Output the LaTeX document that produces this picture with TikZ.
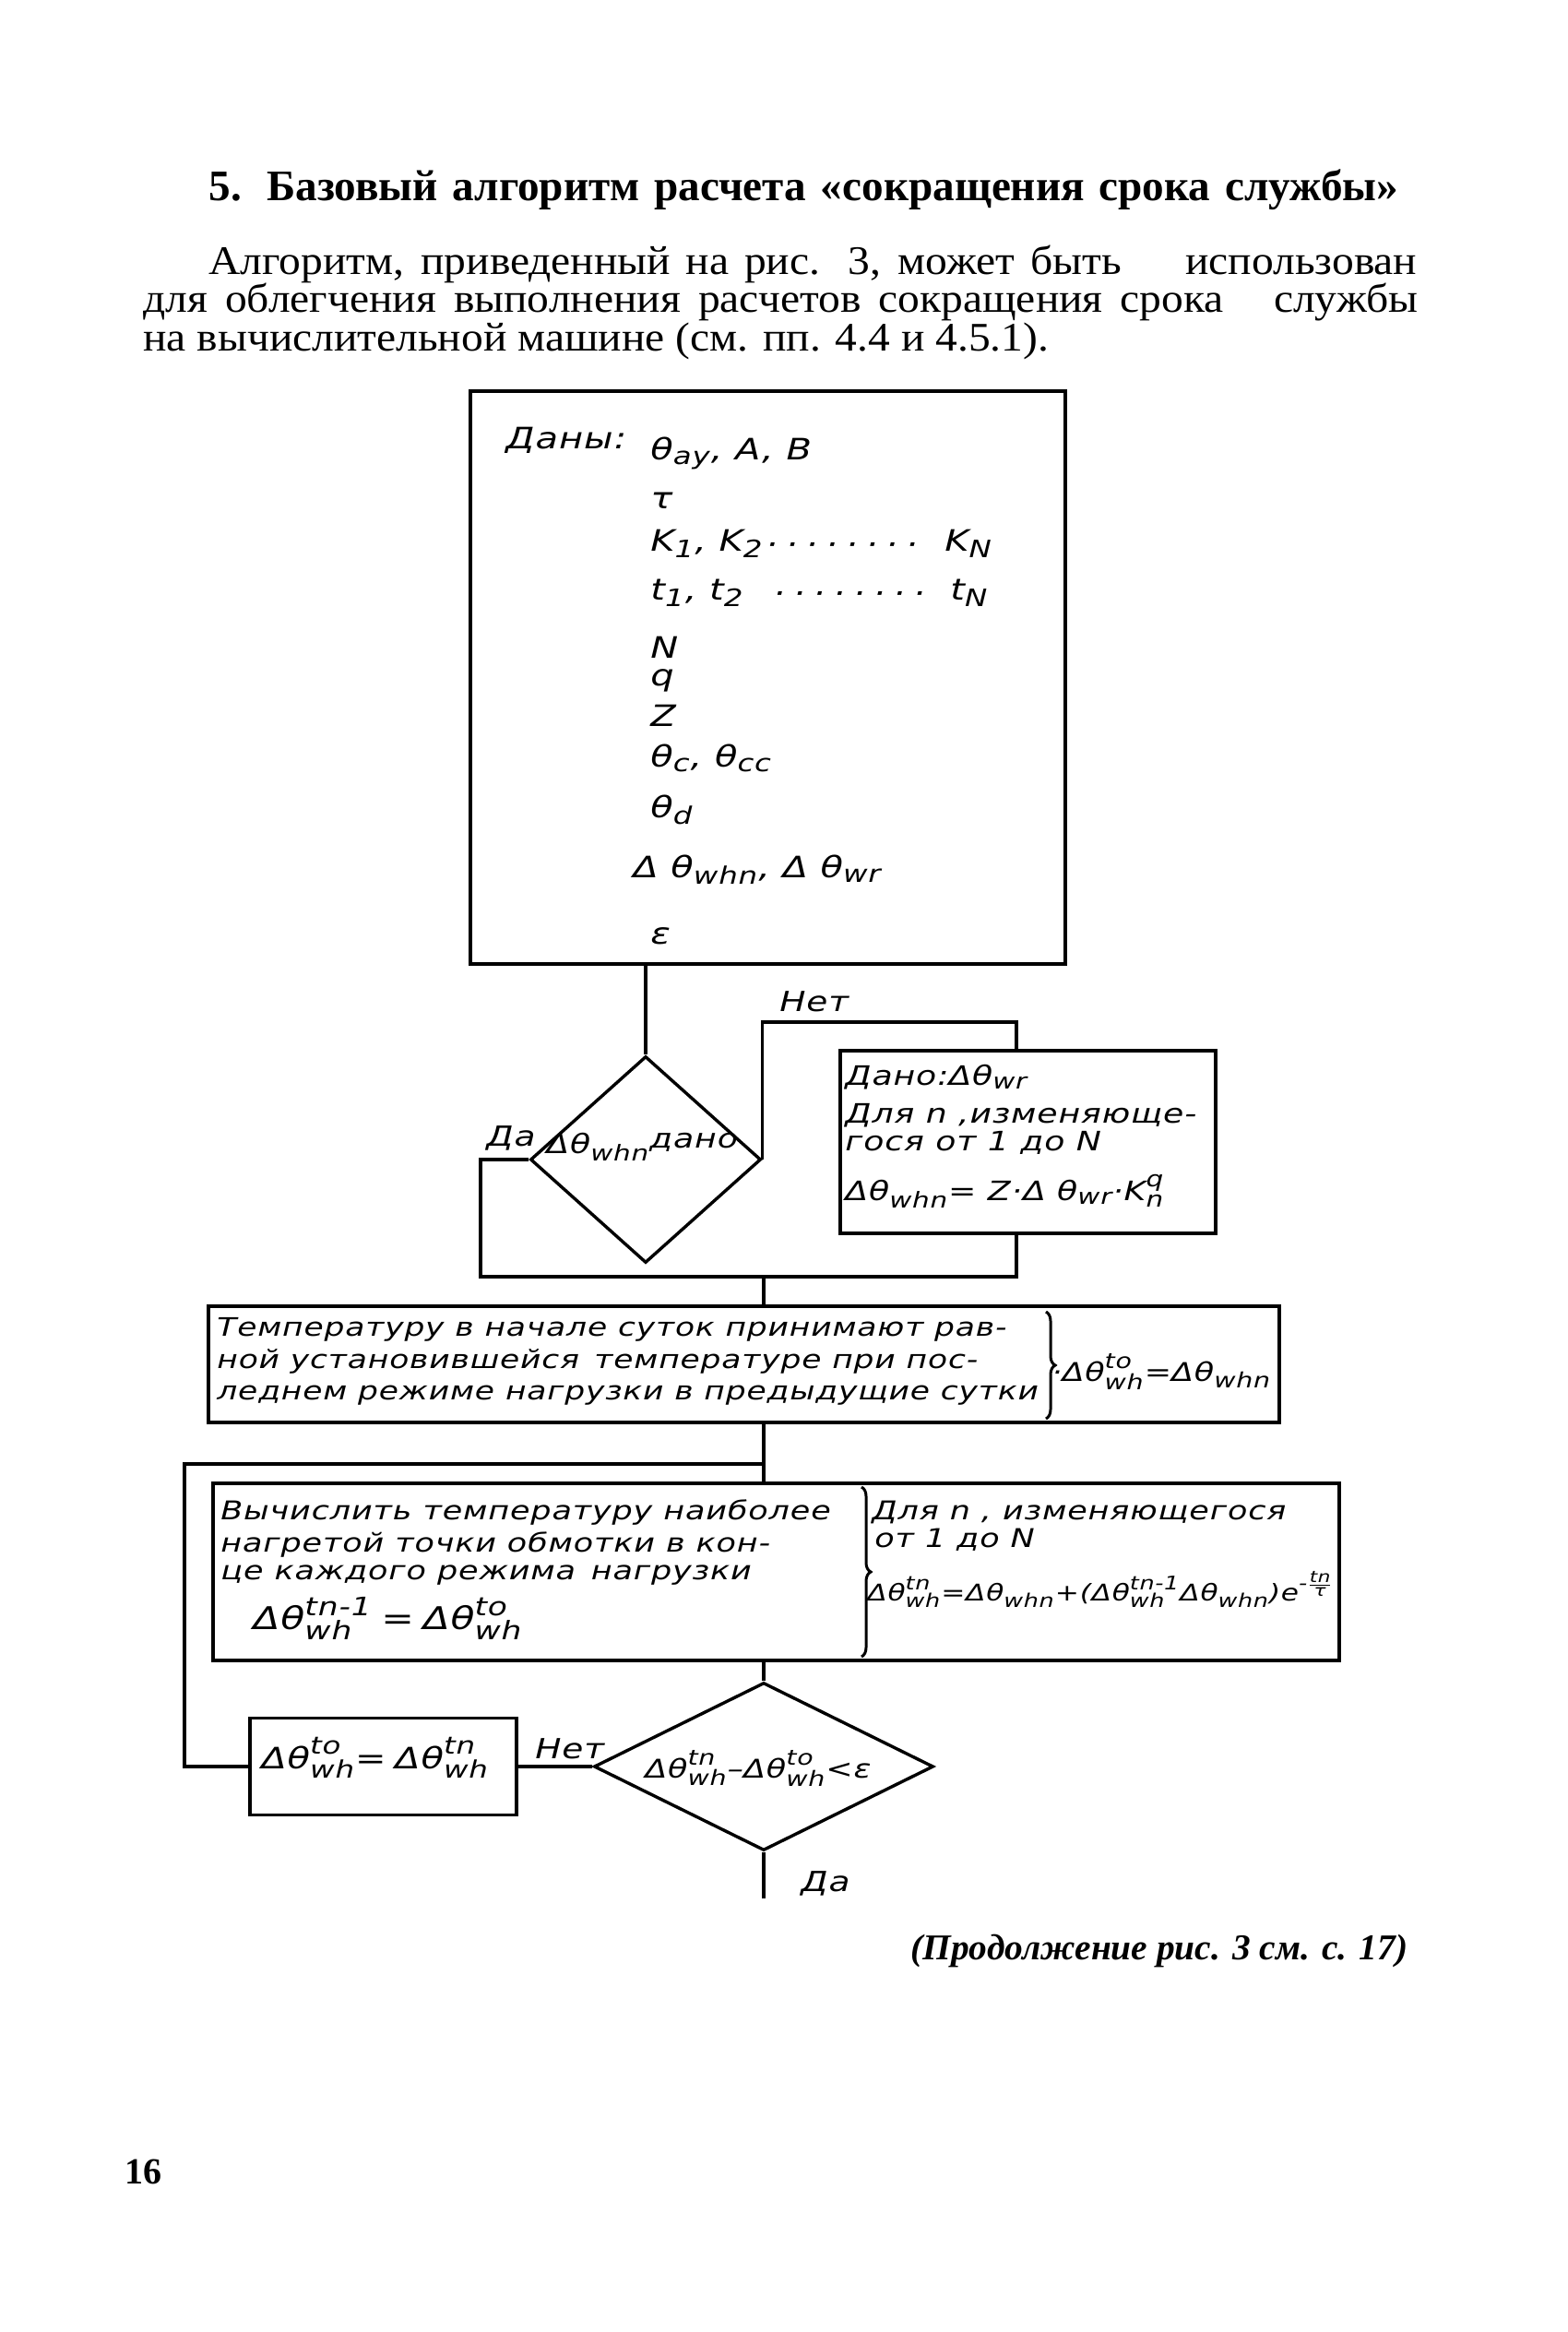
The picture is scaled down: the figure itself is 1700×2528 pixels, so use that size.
\documentclass[tikz,border=0pt]{standalone}
\usepackage{fontspec}
\usepackage{amsmath}
\setmainfont{Liberation Serif}
\newfontfamily\bodyf[FakeStretch=1.08]{Liberation Serif}
\newfontfamily\gost[FakeStretch=1.25,LetterSpace=3]{DejaVu Sans}
\DeclareMathSizes{17}{17}{13.8}{10.5}
\DeclareMathSizes{16}{16}{13}{10}
\DeclareMathSizes{15}{15}{12.2}{9.5}
\DeclareMathSizes{14.5}{14.5}{11.8}{9.2}
\DeclareMathSizes{14}{14}{11.4}{9}
\DeclareMathSizes{13.8}{13.8}{11.2}{9}
\DeclareMathSizes{12.5}{12.5}{10.2}{8.6}
\usetikzlibrary{shapes.geometric,decorations.pathreplacing}
\newcommand\T[1]{\text{#1}}
\newcommand\dotrow{·\hspace{0.28em}·\hspace{0.28em}·\hspace{0.28em}·\hspace{0.28em}·\hspace{0.28em}·\hspace{0.28em}·\hspace{0.28em}·}
\tikzset{
  ln/.style={line width=1.7pt},
  blk/.style={draw, line width=1.7pt, inner sep=0pt, rectangle},
  dia/.style={draw, diamond, line width=1.7pt, inner sep=0pt},
  gt/.style={anchor=base west, inner sep=0pt, font=\gost\itshape\fontsize{#1}{#1}\selectfont},
  bodytxt/.style={anchor=base west, inner sep=0pt, font=\bodyf\fontsize{22}{22}\selectfont},
  brc/.style={decorate, decoration={brace, amplitude=5pt}, line width=1.5pt},
}
\begin{document}
\begin{tikzpicture}[x=0.5pt,y=-0.5pt]
\fill[white] (0,0) rectangle (1700,2528);
\useasboundingbox (0,0) rectangle (1700,2528);

% ---- page text
\node[anchor=base west, inner sep=0pt, font=\bfseries\fontsize{23.6}{23.6}\selectfont] (title) at (226,217)
  {\makebox[645pt][s]{5. Базовый алгоритм расчета «сокращения срока службы»}};
\node[bodytxt] (p1) at (226,297) {\makebox[655pt][s]{Алгоритм, приведенный на рис. 3, может быть\hspace{1.2em} использован}};
\node[bodytxt] (p2) at (155,338) {\makebox[691pt][s]{для облегчения выполнения расчетов сокращения срока\hspace{0.8em} службы}};
\node[bodytxt] (p3) at (155,380) {на вычислительной машине (см. пп. 4.4 и 4.5.1).};

% ---- blocks
\node[blk, minimum width=322.5pt, minimum height=310.5pt] (b1) at (832.5,734.5) {};
\node[dia, minimum width=125pt, minimum height=112pt] (d1) at (700,1257) {};
\node[blk, minimum width=203.5pt, minimum height=99pt] (b2) at (1114.5,1238) {};
\node[blk, minimum width=580.5pt, minimum height=63pt] (b3) at (806.5,1479) {};
\node[blk, minimum width=610.5pt, minimum height=96pt] (b4) at (841.5,1704) {};
\node[dia, minimum width=184pt, minimum height=91pt] (d2) at (828,1915) {};
\node[blk, minimum width=144.5pt, minimum height=52.5pt] (b5) at (415.5,1915) {};

% ---- block 1 texts
\node[gt=16] (dany) at (548,486) {Даны:};
\node[gt=16] (v1) at (705,498) {$\T{θ}_{\T{ay}}$, A, B};
\node[gt=16] (v2) at (705,551) {τ};
\node[gt=16] (v3) at (705,597) {$\T{K}_{\T{1}}$, $\T{K}_{\T{2}}$};
\node[gt=16] (v3d) at (830,601) {\dotrow};
\node[gt=16] (v3n) at (1024,597) {$\T{K}_{\T{N}}$};
\node[gt=16] (v4) at (705,650) {$\T{t}_{\T{1}}$, $\T{t}_{\T{2}}$};
\node[gt=16] (v4d) at (838,654) {\dotrow};
\node[gt=16] (v4n) at (1030,650) {$\T{t}_{\T{N}}$};
\node[gt=16] (v5) at (705,713) {N};
\node[gt=16] (v6) at (705,743) {q};
\node[gt=16] (v7) at (705,787) {Z};
\node[gt=16] (v8) at (705,831) {$\T{θ}_{\T{c}}$, $\T{θ}_{\T{cc}}$};
\node[gt=16] (v9) at (705,886) {$\T{θ}_{\T{d}}$};
\node[gt=16] (v10) at (686,951) {$\T{Δ θ}_{\T{whn}}$, $\T{Δ θ}_{\T{wr}}$};
\node[gt=16] (v11) at (705,1023) {ε};

% ---- diamond 1 and block 2 texts
\node[gt=14.5] (d1t) at (592,1250) {$\T{Δθ}_{\T{whn}}$\raisebox{0.35ex}{дано}};
\node[gt=14.5] (t21) at (916,1176) {Дано:$\T{Δθ}_{\T{wr}}$};
\node[gt=14.5] (t22) at (916,1217) {Для n ,изменяюще-};
\node[gt=14.5] (t23) at (916,1247) {гося от 1 до N};
\node[gt=14.5] (t24) at (916,1301) {$\T{Δθ}_{\T{whn}}\T{= Z·Δ θ}_{\T{wr}}\T{·K}^{\T{q}}_{\T{n}}$};
\node[gt=15] (l1) at (845,1096) {Нет};
\node[gt=15] (l2) at (527,1242) {Да};

% ---- block 3 texts
\node[gt=13.8] (t31) at (235,1448) {Температуру в начале суток принимают рав-};
\node[gt=13.8] (t32) at (235,1483) {ной установившейся\, температуре при пос-};
\node[gt=13.8] (t33) at (235,1517) {леднем режиме нагрузки в предыдущие сутки};
\node[gt=14] (t34) at (1140,1497) {·$\T{Δθ}^{\T{to}}_{\T{wh}}\T{=}\T{Δθ}_{\T{whn}}$};
\draw[brc] (1134,1422) -- (1134,1538);

% ---- block 4 texts
\node[gt=14] (t41) at (239,1647) {Вычислить температуру наиболее};
\node[gt=14] (t42) at (239,1682) {нагретой точки обмотки в кон-};
\node[gt=14] (t43) at (239,1712) {це каждого режима\, нагрузки};
\node[gt=17] (t44) at (274,1766) {$\T{Δθ}^{\T{tn-1}}_{\T{wh}}\;\T{=}\;\T{Δθ}^{\T{to}}_{\T{wh}}$};
\draw[brc] (934,1612) -- (934,1796);
\node[gt=14] (t45) at (945,1647) {Для n , изменяющегося};
\node[gt=14] (t46) at (948,1677) {от 1 до N};
\node[gt=12.5] (t47) at (940,1735) {$\T{Δθ}^{\T{tn}}_{\T{wh}}\T{=Δθ}_{\T{whn}}\T{+(Δθ}^{\T{tn-1}}_{\T{wh}}\T{Δθ}_{\T{whn}}\T{)e}^{\T{-}\frac{\T{tn}}{\T{τ}}}$};

% ---- block 5 / diamond 2 texts
\node[gt=16] (t51) at (283,1917) {$\T{Δθ}^{\T{to}}_{\T{wh}}\T{=}\;\T{Δθ}^{\T{tn}}_{\T{wh}}$};
\node[gt=14, anchor=base] (t61) at (822,1927) {$\T{Δθ}^{\T{tn}}_{\T{wh}}\T{–}\T{Δθ}^{\T{to}}_{\T{wh}}\T{<ε}$};
\node[gt=15] (l3) at (580,1906) {Нет};
\node[gt=15] (l4) at (868,2050) {Да};

% ---- connectors
\coordinate (yl) at (521,1384);
\coordinate (nt) at (1102,1108);
\coordinate (nr) at (1102,1384);
\coordinate (j1) at (828,1384);
\coordinate (j2) at (828,1587);
\coordinate (lp) at (200,1587);
\coordinate (endc) at (828,2058);
\draw[ln] (b1.south -| d1.north) -- (d1.north);
\draw[ln] (d1.west) -| (yl) -- (nr) -- (nr |- b2.south);
\draw[ln] (d1.east) |- (nt) -- (nt |- b2.north);
\draw[ln] (j1) -- (j1 |- b3.north);
\draw[ln] (b3.south -| j1) -- (b4.north -| j1);
\draw[ln] (b5.west) -| (lp) -- (j2);
\draw[ln] (b4.south -| d2.north) -- (d2.north);
\draw[ln] (d2.west) -- (b5.east);
\draw[ln] (d2.south) -- (endc);

% ---- caption and page number
\node[anchor=base west, inner sep=0pt, font=\bfseries\itshape\fontsize{19.7}{19.7}\selectfont] (cap) at (987,2124) {(Продолжение рис. 3 см. с. 17)};
\node[anchor=base west, inner sep=0pt, font=\bfseries\fontsize{20}{20}\selectfont] (pg) at (135,2367) {16};
\end{tikzpicture}
\end{document}
